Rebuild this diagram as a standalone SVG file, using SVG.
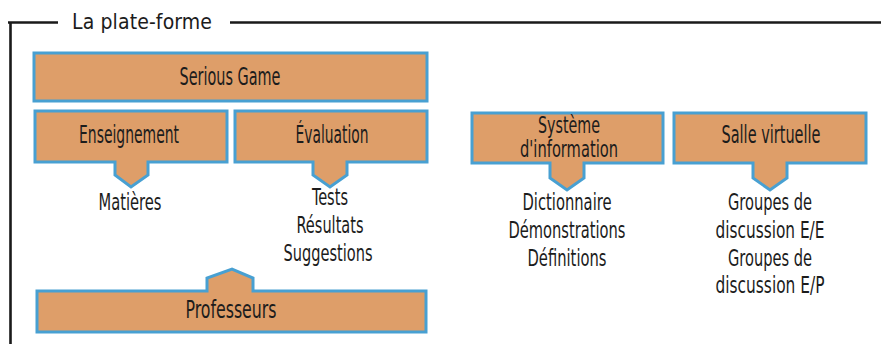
<svg xmlns="http://www.w3.org/2000/svg" width="881" height="344" viewBox="0 0 881 344">
<style>
.box{fill:#DE9E69;stroke:#48A0D2;stroke-width:3;stroke-linejoin:miter}
.frame{fill:none;stroke:#1a1a1a;stroke-width:2.6}
text{font-family:"Liberation Sans Narrow","DejaVu Sans Condensed","Liberation Sans",sans-serif;fill:#1c1c1c;font-size:23px;text-anchor:middle}
.t{font-size:24px}
.h{font-size:21px}
</style>
<rect width="881" height="344" fill="#fff"/>
<g id="frame">
<path class="frame" d="M8,22.5 H58 M230,22.5 H881 M10.5,22 V344"/>
<text x="142" y="29" class="h" textLength="140" lengthAdjust="spacing">La plate-forme</text>
</g>
<g id="serious-game">
<rect class="box" x="34" y="53" width="393" height="48"/>
<text x="230" y="85" class="t" textLength="101" lengthAdjust="spacingAndGlyphs">Serious Game</text>
</g>
<g id="enseignement">
<path class="box" d="M35,111 H227 V162 H148 V175 L131,187 L115,175 V162 H35 Z"/>
<text x="129" y="143" class="t" textLength="100" lengthAdjust="spacingAndGlyphs">Enseignement</text>
</g>
<g id="evaluation">
<path class="box" d="M235,111 H427 V162 H347 V175 L330,187 L313,175 V162 H235 Z"/>
<text x="332" y="143" class="t" textLength="73" lengthAdjust="spacingAndGlyphs">Évaluation</text>
</g>
<g id="systeme">
<path class="box" d="M472,113 H663 V163 H584 V178 L567,190 L550,178 V163 H472 Z"/>
<text x="569" y="133" textLength="62" lengthAdjust="spacingAndGlyphs">Système</text>
<text x="569" y="157" textLength="98" lengthAdjust="spacingAndGlyphs">d'information</text>
</g>
<g id="salle">
<path class="box" d="M674,113 H866 V163 H787 V178 L770,190 L753,178 V163 H674 Z"/>
<text x="771" y="143" class="t" textLength="99" lengthAdjust="spacingAndGlyphs">Salle virtuelle</text>
</g>
<g id="professeurs">
<path class="box" d="M37,291 H207 V278 L232,269 L253,278 V291 H426 V332 H37 Z"/>
<text x="231" y="318" class="t" textLength="91" lengthAdjust="spacingAndGlyphs">Professeurs</text>
</g>
<g id="labels">
<text x="130" y="210" textLength="63" lengthAdjust="spacingAndGlyphs">Matières</text>
<text x="330" y="205" textLength="36" lengthAdjust="spacingAndGlyphs">Tests</text>
<text x="330" y="233" textLength="67" lengthAdjust="spacingAndGlyphs">Résultats</text>
<text x="328" y="261" textLength="89" lengthAdjust="spacingAndGlyphs">Suggestions</text>
<text x="567" y="210" textLength="89" lengthAdjust="spacingAndGlyphs">Dictionnaire</text>
<text x="567" y="238" textLength="117" lengthAdjust="spacingAndGlyphs">Démonstrations</text>
<text x="567" y="266" textLength="79" lengthAdjust="spacingAndGlyphs">Définitions</text>
<text x="770" y="210" textLength="84" lengthAdjust="spacingAndGlyphs">Groupes de</text>
<text x="770" y="238" textLength="109" lengthAdjust="spacingAndGlyphs">discussion E/E</text>
<text x="770" y="266" textLength="84" lengthAdjust="spacingAndGlyphs">Groupes de</text>
<text x="770" y="293" textLength="109" lengthAdjust="spacingAndGlyphs">discussion E/P</text>
</g>
<g id="connectors"></g>
</svg>
